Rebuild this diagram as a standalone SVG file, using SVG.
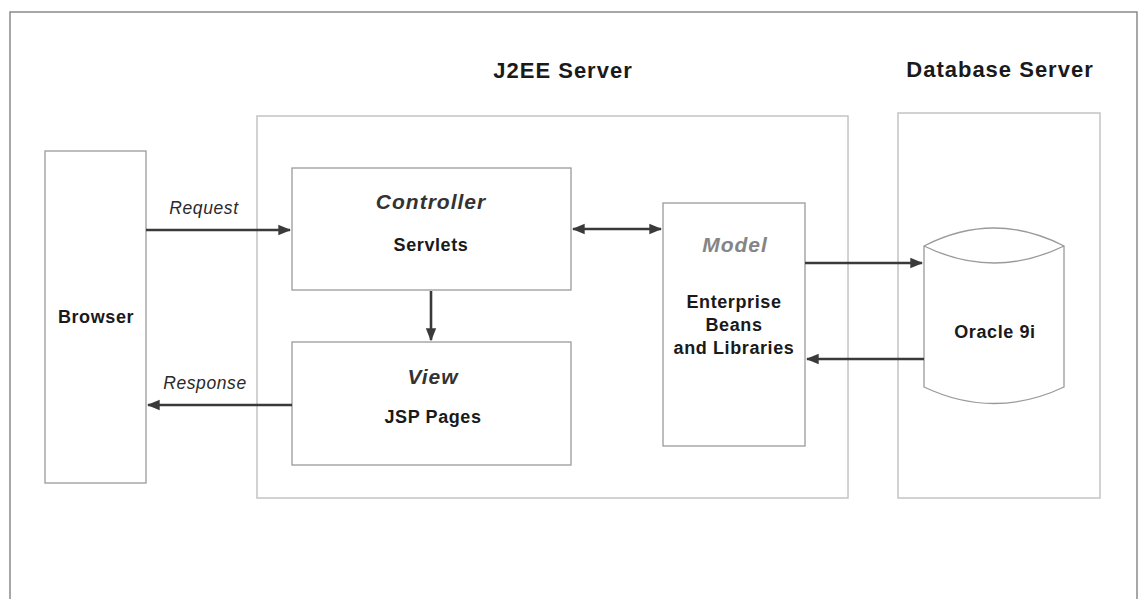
<svg xmlns="http://www.w3.org/2000/svg" width="1141" height="599" viewBox="0 0 1141 599">
  <style>
    .frame { fill: none; stroke: #8a8a8a; stroke-width: 1.5; }
    .zone { fill: none; stroke: #c4c4c4; stroke-width: 1.5; }
    .box { fill: #ffffff; stroke: #9a9a9a; stroke-width: 1.3; }
    .link { fill: none; stroke: #3a3a3a; stroke-width: 2.6; }
    .title { font-family: "Liberation Sans", Arial, sans-serif; font-weight: bold; font-size: 22px; letter-spacing: 1px; fill: #1a1a1a; text-anchor: middle; }
    .head { font-family: "Liberation Sans", Arial, sans-serif; font-weight: bold; font-style: italic; font-size: 21px; letter-spacing: 1px; fill: #333333; text-anchor: middle; }
    .muted { fill: #858585; }
    .body { font-family: "Liberation Sans", Arial, sans-serif; font-weight: bold; font-size: 18px; letter-spacing: 0.6px; fill: #1a1a1a; text-anchor: middle; }
    .lbl { font-family: "Liberation Sans", Arial, sans-serif; font-style: italic; font-size: 17.5px; letter-spacing: 0.6px; fill: #2a2a2a; text-anchor: middle; }
  </style>
  <defs>
    <marker id="arrow" viewBox="0 0 10 10" refX="9" refY="5" markerWidth="5" markerHeight="5" orient="auto-start-reverse" markerUnits="strokeWidth">
      <path d="M0,1 L10,5 L0,9 z" fill="#3a3a3a"/>
    </marker>
  </defs>

  <rect width="1141" height="599" fill="#ffffff"/>

  <!-- page frame (bottom edge runs off the page) -->
  <path class="frame" d="M10,600 L10,12 L1137,12 L1137,600"/>

  <!-- tier titles -->
  <text class="title" x="563" y="78">J2EE Server</text>
  <text class="title" x="1000" y="77">Database Server</text>

  <!-- tier areas -->
  <g id="j2ee-server">
    <rect class="zone" x="257" y="116" width="591" height="382"/>
  </g>
  <g id="database-server">
    <rect class="zone" x="898" y="113" width="202" height="385"/>
  </g>

  <g id="browser">
    <rect class="box" x="45" y="151" width="101" height="332"/>
    <text class="body" x="96" y="323">Browser</text>
  </g>

  <g id="controller">
    <rect class="box" x="292" y="168" width="279" height="122"/>
    <text class="head" x="431" y="209">Controller</text>
    <text class="body" x="431" y="251">Servlets</text>
  </g>

  <g id="view">
    <rect class="box" x="292" y="342" width="279" height="123"/>
    <text class="head" x="433" y="384">View</text>
    <text class="body" x="433" y="423">JSP Pages</text>
  </g>

  <g id="model">
    <rect class="box" x="663" y="203" width="142" height="243"/>
    <text class="head muted" x="735" y="252">Model</text>
    <text class="body" x="734" y="308">Enterprise</text>
    <text class="body" x="734" y="331">Beans</text>
    <text class="body" x="734" y="354">and Libraries</text>
  </g>

  <g id="oracle">
    <path class="box" d="M924,246 Q994,210 1064,246 L1064,387 Q994,420 924,387 Z"/>
    <path class="box" d="M924,246 Q994,280 1064,246"/>
    <text class="body" x="995" y="338">Oracle 9i</text>
  </g>

  <g id="connectors">
    <line class="link" x1="146" y1="230" x2="290" y2="230" marker-end="url(#arrow)"/>
    <line class="link" x1="292" y1="405" x2="148" y2="405" marker-end="url(#arrow)"/>
    <line class="link" x1="431" y1="291" x2="431" y2="340" marker-end="url(#arrow)"/>
    <line class="link" x1="573" y1="229" x2="661" y2="229" marker-start="url(#arrow)" marker-end="url(#arrow)"/>
    <line class="link" x1="805" y1="263" x2="922" y2="263" marker-end="url(#arrow)"/>
    <line class="link" x1="924" y1="359" x2="807" y2="359" marker-end="url(#arrow)"/>
  </g>

  <text class="lbl" x="204" y="214">Request</text>
  <text class="lbl" x="205" y="389">Response</text>
</svg>
